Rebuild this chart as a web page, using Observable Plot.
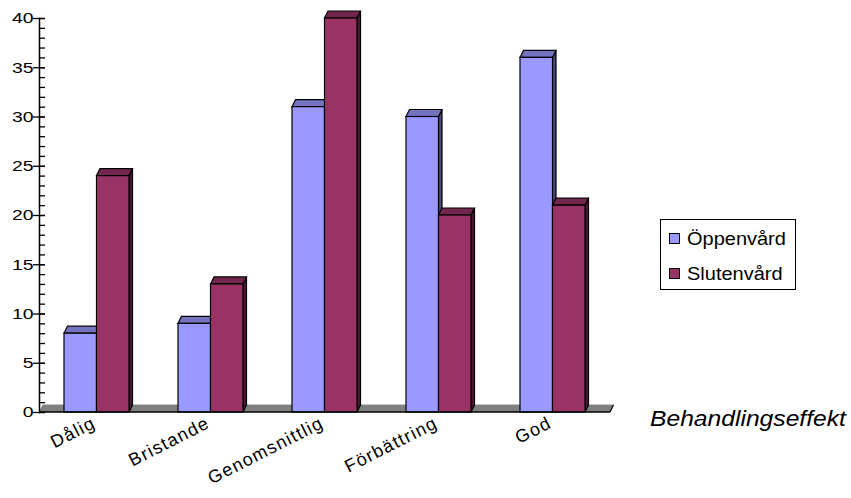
<!DOCTYPE html>
<html>
<head>
<meta charset="utf-8">
<script src="https://cdn.jsdelivr.net/npm/d3@7"></script>
<script src="https://cdn.jsdelivr.net/npm/@observablehq/plot@0.6"></script>
<style>
  body { margin: 0; background: #fff; font-family: "Liberation Sans", Arial, sans-serif; }
  #wrap { position: relative; width: 851px; height: 498px; }
  #wrap svg { display: block; color: #000; }
  #wrap svg g[aria-label='x-axis tick label'] { letter-spacing: 1.3px; }
  .legend { position: absolute; left: 660px; top: 219px; width: 136px; height: 71px;
            border: 1px solid #000; box-sizing: border-box; background: #fff; }
  .swatch { position: absolute; left: 8px; width: 11px; height: 11px; border: 1px solid #000; box-sizing: border-box; }
  .entry { position: absolute; left: 26px; font-size: 18.5px; line-height: 1; white-space: nowrap;
           transform: scaleX(1.08); transform-origin: left center; }
  .axis-title { position: absolute; left: 650px; top: 408px; font-size: 22px; font-style: italic;
                line-height: 1; white-space: nowrap; transform: scaleX(1.12); transform-origin: left center; }
</style>
</head>
<body>
<div id="wrap"></div>
<script>
// Categories of treatment outcome and the two care forms
const categories = ["Dålig", "Bristande", "Genomsnittlig", "Förbättring", "God"];
const seriesNames = ["Öppenvård", "Slutenvård"];
const oppenvard = [8, 9, 31, 30, 36];
const slutenvard = [24, 13, 40, 20, 21];
const yMajorTicks = [0, 5, 10, 15, 20, 25, 30, 35, 40];
const yMinorTicks = d3.range(0, 41, 1);
const seriesColors = ["#9999FF", "#993366"];
const axisTitle = "Behandlingseffekt";

const rows = categories.map((category, i) => ({
  category,
  [seriesNames[0]]: oppenvard[i],
  [seriesNames[1]]: slutenvard[i]
}));

// Depth of the pseudo-3D extrusion, in pixels
const depthX = 3.5, depthY = 7;
const halfBand = 32.5;

const plot = Plot.plot({
  width: 851,
  height: 498,
  marginLeft: 39,
  marginRight: 241,
  marginTop: 18,
  marginBottom: 86,
  style: { fontFamily: "'Liberation Sans', Arial, sans-serif", color: "#000", background: "#fff" },
  x: { domain: categories, paddingInner: 0.431, paddingOuter: 0.21, label: null },
  y: { domain: [0, 40], label: null },
  marks: [
    Plot.barY(rows, { x: "category", y: seriesNames[0], fill: seriesColors[0], stroke: "#000", strokeWidth: 1.2, insetRight: halfBand }),
    Plot.barY(rows, { x: "category", y: seriesNames[1], fill: seriesColors[1], stroke: "#000", strokeWidth: 1.2, insetLeft: halfBand }),
    Plot.frame({ anchor: "left", strokeWidth: 1.5 }),
    Plot.axisY({ ticks: yMinorTicks, tickSize: 6, dx: 6, tickFormat: () => "", label: null, strokeWidth: 1.3 }),
    Plot.axisY({ ticks: yMajorTicks, tickSize: 12, dx: 6, tickPadding: 0, fontSize: 15.5, label: null, strokeWidth: 1.3 }),
    Plot.axisX({ tickSize: 0, tickPadding: 3, dx: -6, tickRotate: -27, textAnchor: "end", lineAnchor: "top", fontSize: 18, label: null })
  ]
});

document.getElementById("wrap").appendChild(plot);

const svg = d3.select(plot);
const xs = plot.scale("x");
const ys = plot.scale("y");
const base = ys.apply(0);
const [xr0, xr1] = xs.range;

// Floor slab under the columns
const barGroups = svg.selectAll("g[aria-label='bar']").nodes();
const floor = svg.insert("g", () => barGroups[0]);
floor.append("polygon")
  .attr("points", [[xr0, base], [xr1, base], [xr1 + depthX, base - depthY], [xr0 + depthX, base - depthY]].join(" "))
  .attr("fill", "#808080");
floor.append("line")
  .attr("x1", xr0 + depthX).attr("x2", xr1 + depthX)
  .attr("y1", base - depthY - 0.5).attr("y2", base - depthY - 0.5)
  .attr("stroke", "#c8c8c8").attr("stroke-width", 1);
floor.append("line")
  .attr("x1", xr1).attr("x2", xr1 + depthX)
  .attr("y1", base).attr("y2", base - depthY)
  .attr("stroke", "#000").attr("stroke-width", 1.2);

// Top and side faces for every column
barGroups.forEach(g => {
  const fill = d3.color(g.getAttribute("fill"));
  const top = fill.darker(0.8).formatHex();
  const side = fill.darker(2).formatHex();
  d3.select(g).selectAll("rect").each(function () {
    const x0 = +this.getAttribute("x"), y0 = +this.getAttribute("y");
    const w = +this.getAttribute("width"), h = +this.getAttribute("height");
    const sideFace = document.createElementNS("http://www.w3.org/2000/svg", "polygon");
    sideFace.setAttribute("points", [[x0 + w, y0], [x0 + w + depthX, y0 - depthY], [x0 + w + depthX, y0 + h - depthY], [x0 + w, y0 + h]].join(" "));
    sideFace.setAttribute("fill", side);
    const topFace = document.createElementNS("http://www.w3.org/2000/svg", "polygon");
    topFace.setAttribute("points", [[x0, y0], [x0 + depthX, y0 - depthY], [x0 + w + depthX, y0 - depthY], [x0 + w, y0]].join(" "));
    topFace.setAttribute("fill", top);
    g.insertBefore(sideFace, this);
    g.insertBefore(topFace, this);
  });
});

// Baseline in front of the floor
svg.append("line")
  .attr("x1", xr0).attr("x2", xr1)
  .attr("y1", base).attr("y2", base)
  .attr("stroke", "#000").attr("stroke-width", 1.5);

// Wide glyphs for the value labels
svg.selectAll("g[aria-label='y-axis tick label'] text").each(function () {
  const t = this.getAttribute("transform");
  if (t) this.setAttribute("transform", t + " scale(1.25,1)");
});

// Legend and axis title
const wrap = d3.select("#wrap");
const legend = wrap.append("div").attr("class", "legend");
seriesNames.forEach((name, i) => {
  legend.append("div").attr("class", "swatch")
    .style("top", (13 + i * 35) + "px")
    .style("background", seriesColors[i]);
  legend.append("div").attr("class", "entry")
    .style("top", (10 + i * 34.5) + "px")
    .text(name);
});
wrap.append("div").attr("class", "axis-title").text(axisTitle);
</script>
</body>
</html>
